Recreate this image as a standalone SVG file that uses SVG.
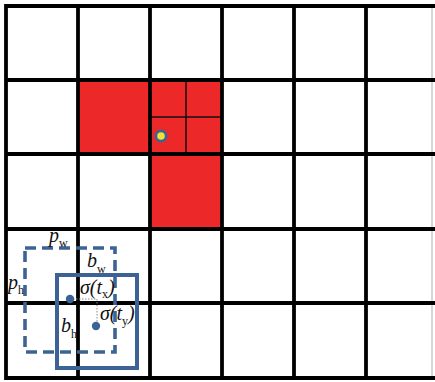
<svg xmlns="http://www.w3.org/2000/svg" width="435" height="382" viewBox="0 0 435 382">
<style>
.grid{stroke:#000;stroke-width:3.8;fill:none}
.thin{stroke:#111;stroke-width:1.5}
.red{fill:#ED2828}
.blue{stroke:#3D6394;fill:none}
.dot{fill:#3D6394}
.guide{stroke:#8a8a8a;stroke-width:1;stroke-dasharray:1.5 1.5}
.lbl{font-family:"Liberation Serif","Times New Roman",serif;font-style:italic;font-size:20px;fill:#111}
.sub{font-size:12px;font-style:normal}
</style>
<rect width="435" height="382" fill="#fff"/>
<g id="red-cells">
<rect class="red" x="78" y="80" width="72" height="74"/>
<rect class="red" x="150" y="80" width="72" height="74"/>
<rect class="red" x="150" y="154" width="72" height="75"/>
</g>
<g id="subdivision">
<line class="thin" x1="186" y1="80" x2="186" y2="154"/>
<line class="thin" x1="150" y1="117" x2="222" y2="117"/>
</g>
<g id="grid">
<line x1="432" y1="6" x2="432" y2="378" stroke="#c8c8c8" stroke-width="1.5"/>
<g class="grid">
<line x1="6" y1="4.1" x2="6" y2="379.9"/>
<line x1="78" y1="6" x2="78" y2="378"/>
<line x1="150" y1="6" x2="150" y2="378"/>
<line x1="222" y1="6" x2="222" y2="378"/>
<line x1="294" y1="6" x2="294" y2="378"/>
<line x1="366" y1="6" x2="366" y2="378"/>
<line x1="6" y1="6" x2="435" y2="6"/>
<line x1="6" y1="80" x2="435" y2="80"/>
<line x1="6" y1="154" x2="435" y2="154"/>
<line x1="6" y1="229" x2="435" y2="229"/>
<line x1="6" y1="303" x2="435" y2="303"/>
<line x1="6" y1="378" x2="435" y2="378"/>
</g>
</g>
<g id="point">
<circle cx="161" cy="136" r="6.5" fill="#3D6394"/>
<circle cx="161" cy="136" r="3.8" fill="#F2E234"/>
</g>
<g id="prior-box">
<rect class="blue" x="25" y="248" width="90" height="104" stroke-width="3.6" stroke-dasharray="11 6"/>
</g>
<g id="pred-box">
<rect class="blue" x="57" y="275" width="80" height="93" stroke-width="4"/>
</g>
<g id="connectors">
<line class="guide" x1="70" y1="299" x2="97" y2="299"/>
<line class="guide" x1="97" y1="299" x2="97" y2="326"/>
</g>
<g id="centers">
<circle class="dot" cx="70" cy="299" r="4.2"/>
<circle class="dot" cx="96" cy="326" r="4.2"/>
</g>
<g id="labels">
<text class="lbl" x="49" y="242">p<tspan class="sub" dy="5">w</tspan></text>
<text class="lbl" x="8" y="289">p<tspan class="sub" dy="5">h</tspan></text>
<text class="lbl" x="87" y="267">b<tspan class="sub" dy="6">w</tspan></text>
<text class="lbl" x="61" y="332">b<tspan class="sub" dy="6">h</tspan></text>
<text class="lbl" x="80" y="294">σ(t<tspan class="sub" dy="4">x</tspan><tspan dy="-4">)</tspan></text>
<text class="lbl" x="100" y="320">σ(t<tspan class="sub" dy="5">y</tspan><tspan dy="-5">)</tspan></text>
</g>
</svg>
